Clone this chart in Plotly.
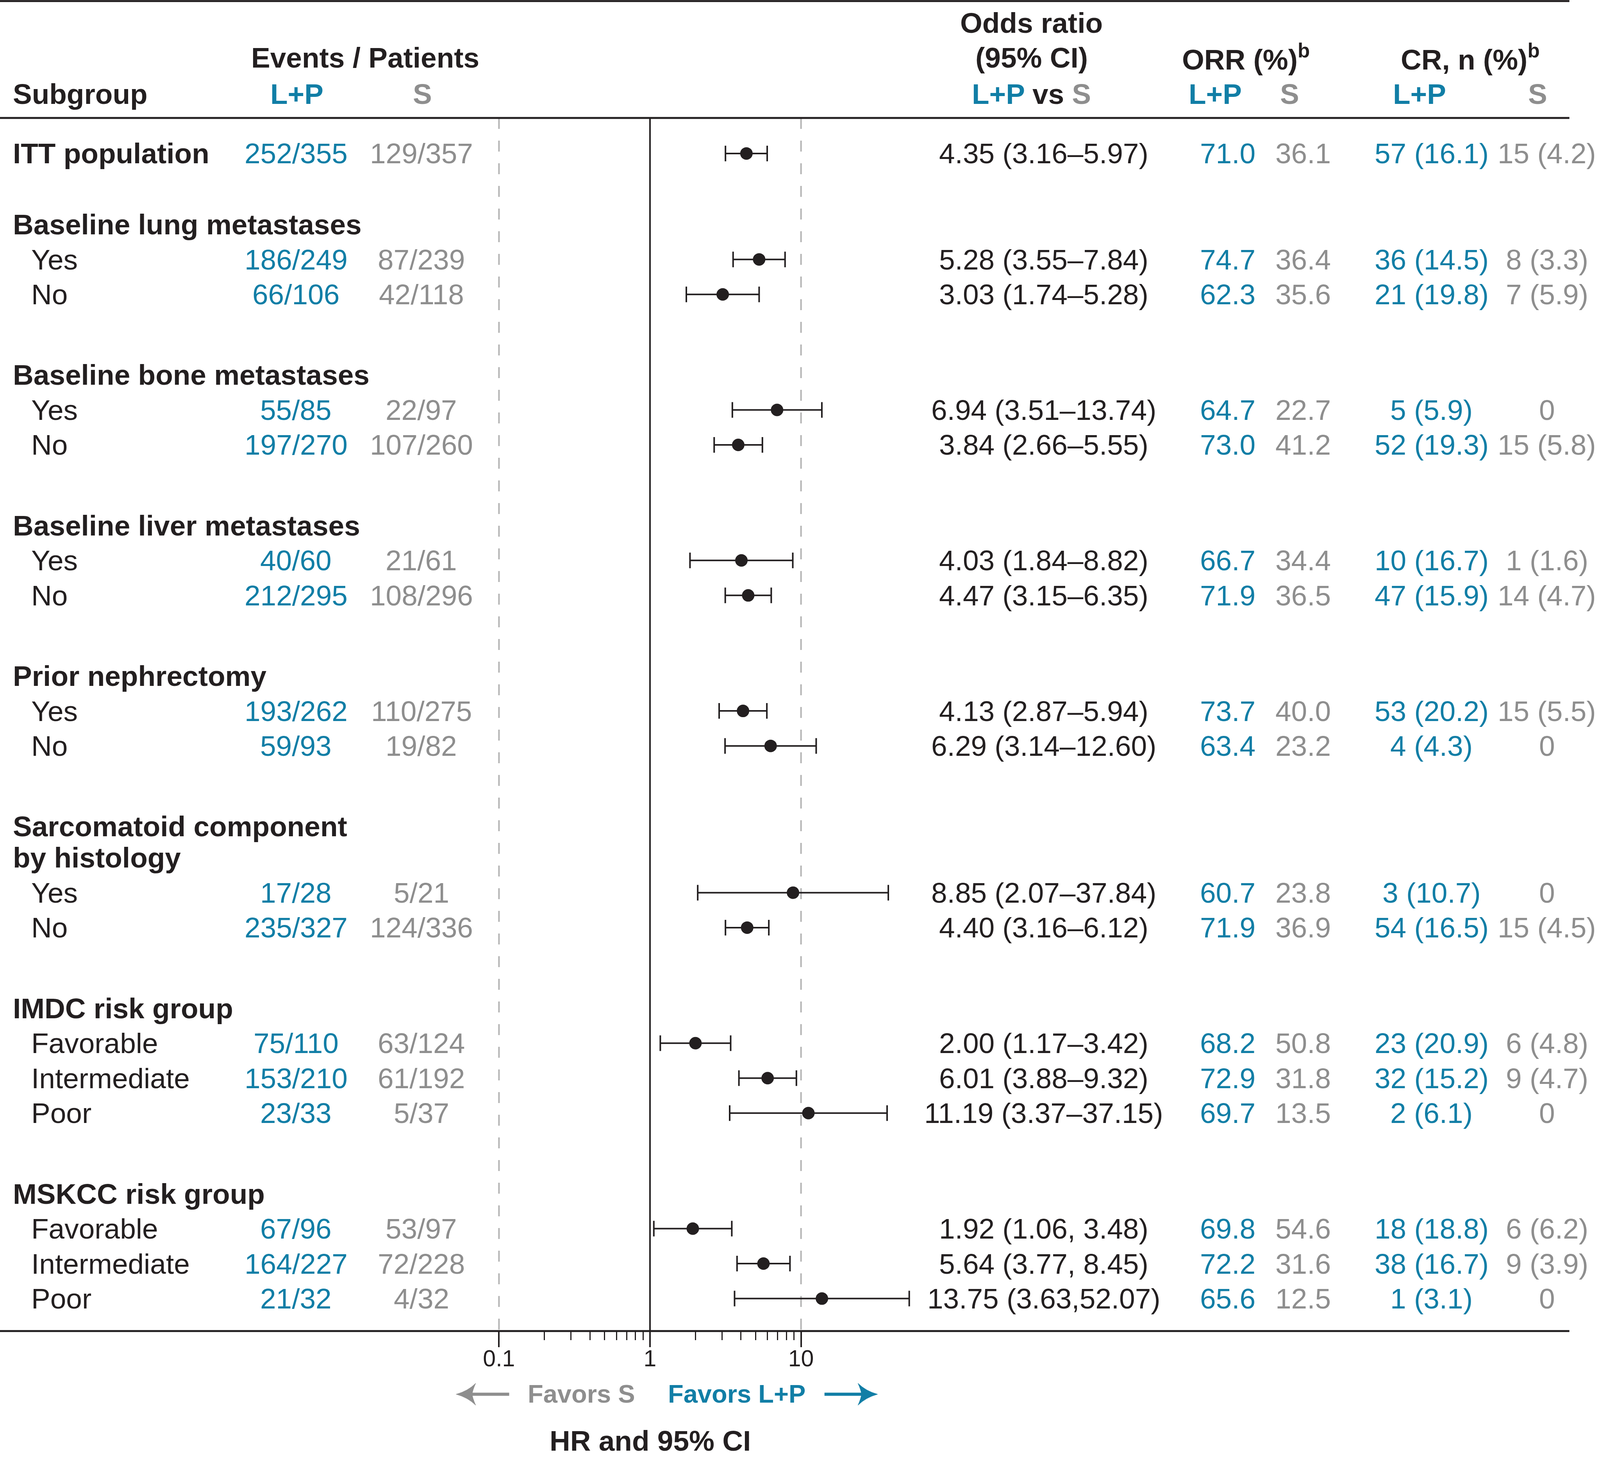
import plotly.graph_objects as go

# -----------------------------
# Table data (ITT row first, then each subgroup's levels)
# -----------------------------

group_titles = [
    ["Baseline lung metastases"],
    ["Baseline bone metastases"],
    ["Baseline liver metastases"],
    ["Prior nephrectomy"],
    ["Sarcomatoid component", "by histology"],
    ["IMDC risk group"],
    ["MSKCC risk group"],
]
group_levels = [
    ["Yes", "No"],
    ["Yes", "No"],
    ["Yes", "No"],
    ["Yes", "No"],
    ["Yes", "No"],
    ["Favorable", "Intermediate", "Poor"],
    ["Favorable", "Intermediate", "Poor"],
]

events_lp = ["252/355", "186/249", "66/106", "55/85", "197/270", "40/60", "212/295",
             "193/262", "59/93", "17/28", "235/327", "75/110", "153/210", "23/33",
             "67/96", "164/227", "21/32"]
events_s = ["129/357", "87/239", "42/118", "22/97", "107/260", "21/61", "108/296",
            "110/275", "19/82", "5/21", "124/336", "63/124", "61/192", "5/37",
            "53/97", "72/228", "4/32"]

or_est = [4.35, 5.28, 3.03, 6.94, 3.84, 4.03, 4.47, 4.13, 6.29, 8.85, 4.40,
          2.00, 6.01, 11.19, 1.92, 5.64, 13.75]
or_lo = [3.16, 3.55, 1.74, 3.51, 2.66, 1.84, 3.15, 2.87, 3.14, 2.07, 3.16,
         1.17, 3.88, 3.37, 1.06, 3.77, 3.63]
or_hi = [5.97, 7.84, 5.28, 13.74, 5.55, 8.82, 6.35, 5.94, 12.60, 37.84, 6.12,
         3.42, 9.32, 37.15, 3.48, 8.45, 52.07]
or_labels = ["4.35 (3.16–5.97)", "5.28 (3.55–7.84)", "3.03 (1.74–5.28)",
             "6.94 (3.51–13.74)", "3.84 (2.66–5.55)", "4.03 (1.84–8.82)",
             "4.47 (3.15–6.35)", "4.13 (2.87–5.94)", "6.29 (3.14–12.60)",
             "8.85 (2.07–37.84)", "4.40 (3.16–6.12)", "2.00 (1.17–3.42)",
             "6.01 (3.88–9.32)", "11.19 (3.37–37.15)", "1.92 (1.06, 3.48)",
             "5.64 (3.77, 8.45)", "13.75 (3.63,52.07)"]

orr_lp = [71.0, 74.7, 62.3, 64.7, 73.0, 66.7, 71.9, 73.7, 63.4, 60.7, 71.9,
          68.2, 72.9, 69.7, 69.8, 72.2, 65.6]
orr_s = [36.1, 36.4, 35.6, 22.7, 41.2, 34.4, 36.5, 40.0, 23.2, 23.8, 36.9,
         50.8, 31.8, 13.5, 54.6, 31.6, 12.5]

cr_lp = ["57 (16.1)", "36 (14.5)", "21 (19.8)", "5 (5.9)", "52 (19.3)",
         "10 (16.7)", "47 (15.9)", "53 (20.2)", "4 (4.3)", "3 (10.7)",
         "54 (16.5)", "23 (20.9)", "32 (15.2)", "2 (6.1)", "18 (18.8)",
         "38 (16.7)", "1 (3.1)"]
cr_s = ["15 (4.2)", "8 (3.3)", "7 (5.9)", "0", "15 (5.8)", "1 (1.6)",
        "14 (4.7)", "15 (5.5)", "0", "0", "15 (4.5)", "6 (4.8)", "9 (4.7)",
        "0", "6 (6.2)", "9 (3.9)", "0"]

# -----------------------------
# Styling / layout helpers
# -----------------------------

# the photographed strip is ~4096 px wide, so keep the whole table inside it
W, H = 4096, 3743
REF_W = 1568.0                      # layout measured on a 1568 px wide copy
REF_H = 3743 * REF_W / 4191

TEAL = "#117ea6"
GREY = "#8e8e8e"
INK = "#231f20"
FONT = "Liberation Sans, Arial, sans-serif"
FS = 73


def px(xd):
    return xd / REF_W


def py(yd):
    return 1 - yd / REF_H


# row layout (one unit = one table line)
first_gap, group_gap, item_step, title_step = 2.0, 2.27, 0.985, 0.88

row_y = [1.0]
row_names = ["ITT population"]
title_y = []
pos = 1.0
for k, (titles, levels) in enumerate(zip(group_titles, group_levels)):
    pos += first_gap if k == 0 else group_gap
    for j, t in enumerate(titles):
        if j:
            pos += title_step
        title_y.append((t, pos))
    for lev in levels:
        pos += item_step
        row_y.append(pos)
        row_names.append(lev)

y_top_d, y_bot_d = 113, 1275
y_max = (y_bot_d - y_top_d) / 34.0

fig = go.Figure()

# reference lines
fig.add_trace(go.Scatter(
    x=[1, 1], y=[0, y_max], mode="lines",
    line=dict(color=INK, width=4), hoverinfo="skip", showlegend=False,
))
for ref in (0.1, 10):
    fig.add_trace(go.Scatter(
        x=[ref, ref], y=[0, y_max], mode="lines",
        line=dict(color="#b5b5b5", width=4, dash="28px,30px"),
        hoverinfo="skip", showlegend=False,
    ))

# odds ratios with 95% CI
fig.add_trace(go.Scatter(
    x=or_est, y=row_y, mode="markers",
    marker=dict(size=32, color=INK),
    error_x=dict(
        type="data", symmetric=False,
        array=[h - e for h, e in zip(or_hi, or_est)],
        arrayminus=[e - l for e, l in zip(or_est, or_lo)],
        color=INK, thickness=4, width=20,
    ),
    cliponaxis=False, showlegend=False,
))

ann = []


def txt(text, x, y, color=INK, size=FS, anchor="center", yref="y", bold=False):
    if bold:
        text = "<b>" + text + "</b>"
    ann.append(dict(
        text=text, x=x, y=y, xref="paper", yref=yref,
        xanchor=anchor, yanchor="middle", showarrow=False,
        font=dict(family=FONT, size=size, color=color),
    ))


# header
txt("Subgroup", px(12), py(90), anchor="left", yref="paper", bold=True)
txt("Events / Patients", px(358), py(55), yref="paper", bold=True)
txt("L+P", px(291), py(90), color=TEAL, yref="paper", bold=True)
txt("S", px(414), py(90), color=GREY, yref="paper", bold=True)
txt("Odds ratio", px(1011), py(22), yref="paper", bold=True)
txt("(95% CI)", px(1011), py(55), yref="paper", bold=True)
txt(f'<span style="color:{TEAL}">L+P</span> vs <span style="color:{GREY}">S</span>',
    px(1011), py(90), yref="paper", bold=True)
txt("ORR (%)<sup>b</sup>", px(1221), py(55), yref="paper", bold=True)
txt("L+P", px(1191), py(90), color=TEAL, yref="paper", bold=True)
txt("S", px(1264), py(90), color=GREY, yref="paper", bold=True)
txt("CR, n (%)<sup>b</sup>", px(1441), py(55), yref="paper", bold=True)
txt("L+P", px(1391), py(90), color=TEAL, yref="paper", bold=True)
txt("S", px(1507), py(90), color=GREY, yref="paper", bold=True)

# subgroup titles
for t, y in title_y:
    txt(t, px(12), y, anchor="left", bold=True)

# rows
for i, y in enumerate(row_y):
    if i == 0:
        txt(row_names[i], px(12), y, anchor="left", bold=True)
    else:
        txt(row_names[i], px(30), y, anchor="left")
    txt(events_lp[i], px(290), y, color=TEAL)
    txt(events_s[i], px(413), y, color=GREY)
    txt(or_labels[i], px(1023), y)
    txt(f"{orr_lp[i]:.1f}", px(1203), y, color=TEAL)
    txt(f"{orr_s[i]:.1f}", px(1277), y, color=GREY)
    txt(cr_lp[i], px(1403), y, color=TEAL)
    txt(cr_s[i], px(1516), y, color=GREY)

# footer
txt("Favors S", px(570), py(1335), color=GREY, size=65, yref="paper", bold=True)
txt("Favors L+P", px(722), py(1335), color=TEAL, size=65, yref="paper", bold=True)
txt("HR and 95% CI", px(637), py(1380), yref="paper", bold=True)

# horizontal rules
shapes = []
for yd in (1, y_top_d, y_bot_d):
    shapes.append(dict(
        type="line", xref="paper", yref="paper",
        x0=0, x1=px(1538), y0=py(yd), y1=py(yd),
        line=dict(color=INK, width=5),
    ))


# "favors" arrows: shaft + swept arrowhead (sizes in figure px)
def arrow(tip_d, tail_d, yd, color):
    s = 1 if tail_d > tip_d else -1
    x0, y0 = px(tip_d), py(yd)

    def p(dx, dy):
        return f"{x0 + s * dx / W:.6f},{y0 - dy / H:.6f}"

    head = (f"M{p(0, 0)} Q{p(30, -8)} {p(50, -28)} Q{p(42, -10)} {p(41, 0)} "
            f"Q{p(42, 10)} {p(50, 28)} Q{p(30, 8)} {p(0, 0)} Z")
    shapes.append(dict(type="path", xref="paper", yref="paper", path=head,
                       fillcolor=color, line=dict(color=color, width=1)))
    shapes.append(dict(type="line", xref="paper", yref="paper",
                       x0=x0 + s * 38 / W, x1=px(tail_d), y0=y0, y1=y0,
                       line=dict(color=color, width=8)))


arrow(447, 499, 1335.5, GREY)
arrow(860, 808, 1335.5, TEAL)

minor_vals = [0.2, 0.3, 0.4, 0.5, 0.6, 0.7, 0.8, 0.9, 2, 3, 4, 5, 6, 7, 8, 9]

fig.update_layout(
    width=W, height=H,
    margin=dict(l=0, r=0, t=0, b=0),
    paper_bgcolor="white", plot_bgcolor="white",
    font=dict(family=FONT, size=FS, color=INK),
    annotations=ann, shapes=shapes,
    xaxis=dict(
        type="log",
        domain=[px(470), px(900)],
        range=[-1 - 19 / 148, 1 + 115 / 148],
        tickvals=[0.1, 1, 10], ticktext=["0.1", "1", "10"],
        ticks="outside", ticklen=40, tickwidth=4, tickcolor=INK,
        ticklabelstandoff=-22,
        tickfont=dict(family=FONT, size=59, color=INK),
        minor=dict(tickvals=minor_vals, ticks="outside", ticklen=22,
                   tickwidth=3, tickcolor=INK, showgrid=False),
        showgrid=False, zeroline=False, showline=False,
    ),
    yaxis=dict(
        domain=[py(y_bot_d), py(y_top_d)],
        range=[y_max, 0],
        visible=False,
    ),
)

# let the figure sit flush in the page (no default body margin)
fig.write_html(
    "out.html",
    config={"displayModeBar": False},
    post_script="document.body.style.margin='0';document.body.style.overflow='hidden';",
)
